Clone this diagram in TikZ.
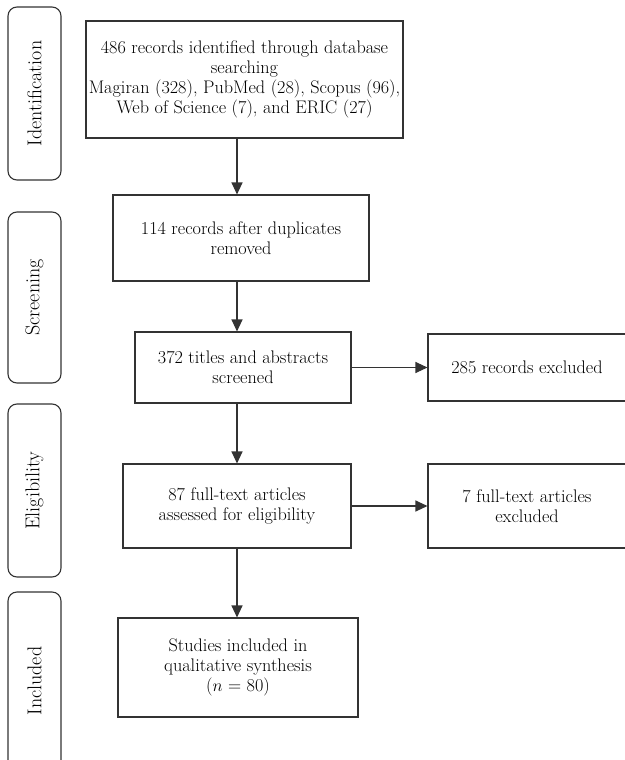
\documentclass[tikz,border=0pt]{standalone}
\usepackage{fontspec}
\usetikzlibrary{arrows.meta}
\begin{document}
\begin{tikzpicture}[x=1pt, y=-1pt,
  line width=1.1pt, draw=black!80,
  stage/.style={draw, rounded corners=9pt, minimum width=53pt, inner sep=0pt},
  stagetext/.style={rotate=90, font=\fontsize{20}{22}\selectfont},
  flowbox/.style={draw, align=center, inner sep=1pt, font=\fontsize{18.2}{19.8}\selectfont},
  flow/.style={-{Triangle[width=11pt,length=12pt]}}]
\useasboundingbox (0,0) rectangle (624,760);

\node[stage, minimum height=173pt] (ident) at (34.5,93.5) {};
\node[stage, minimum height=171pt] (screen) at (34.5,297.5) {};
\node[stage, minimum height=173pt] (elig) at (34.5,490.5) {};
\node[stage, minimum height=178pt] (incl) at (34.5,681) {};
\node[stagetext] at (ident) {Identification};
\node[stagetext] at (screen) {Screening};
\node[stagetext] at (elig) {Eligibility};
\node[stagetext] at (incl) {Included};

\node[flowbox, minimum width=317pt, minimum height=117pt] (found) at (244.5,79.5)
  {486 records identified through database\\searching\\Magiran (328), PubMed (28), Scopus (96),\\Web of Science (7), and ERIC (27)};
\node[flowbox, minimum width=256pt, minimum height=86pt] (dedup) at (241,238)
  {114 records after duplicates\\removed};
\node[flowbox, minimum width=216pt, minimum height=71pt] (titles) at (243,367.5)
  {372 titles and abstracts\\screened};
\node[flowbox, minimum width=228pt, minimum height=84pt] (fulltext) at (237,506)
  {87 full-text articles\\assessed for eligibility};
\node[flowbox, minimum width=240pt, minimum height=99pt] (studies) at (238,667.5)
  {Studies included in\\qualitative synthesis\\($n$ = 80)};
\node[flowbox, minimum width=198pt, minimum height=67pt] (excl1) at (527,367.5)
  {285 records excluded};
\node[flowbox, minimum width=198pt, minimum height=84pt] (excl2) at (527,506)
  {7 full-text articles\\excluded};

\coordinate (spine) at (237,0);

\draw[flow] (found.south -| spine) -- (dedup.north -| spine);
\draw[flow] (dedup.south -| spine) -- (titles.north -| spine);
\draw[flow] (titles.south -| spine) -- (fulltext.north -| spine);
\draw[flow] (fulltext.south -| spine) -- (studies.north -| spine);
\draw[flow] (titles.east) -- (excl1.west);
\draw[flow] (fulltext.east) -- (excl2.west);
\end{tikzpicture}
\end{document}
